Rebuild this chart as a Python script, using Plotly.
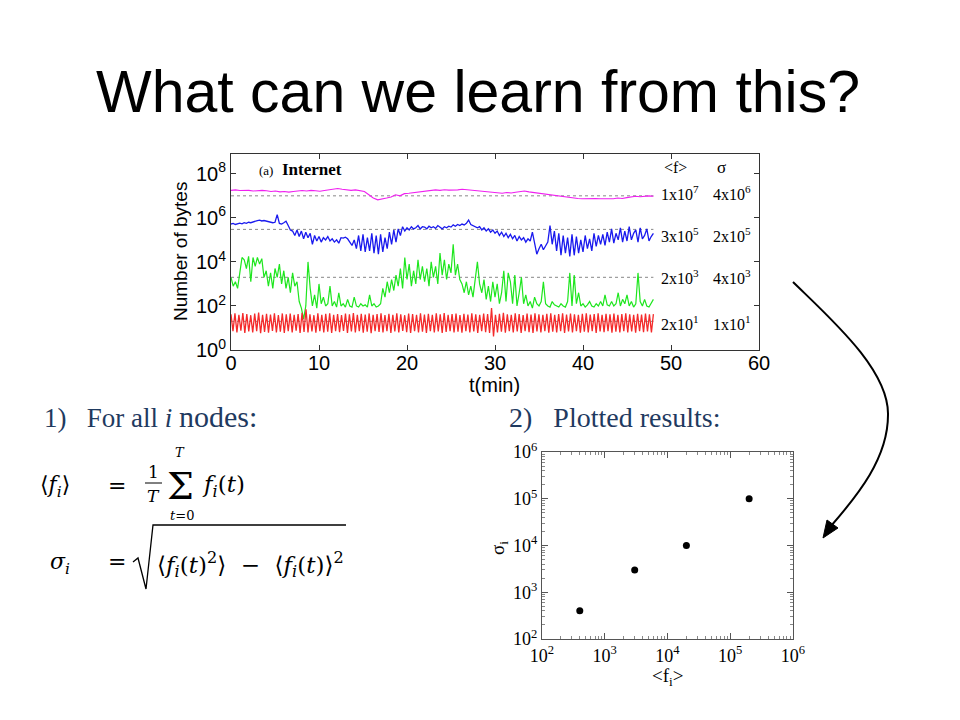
import numpy as np
import plotly.graph_objects as go

W, H = 960, 720
OFF = 8  # page body margin of the browser

# ---------------- data ----------------
# top panel: log10(bytes) read off the picture, sampled uniformly over t = 0..48 min
magenta_log = [7.25, 7.27, 7.24, 7.26, 7.25, 7.22, 7.24, 7.25, 7.23, 7.2, 7.22,
               7.18, 7.2, 7.17, 7.2, 7.22, 7.24, 7.22, 7.25, 7.23, 7.21,
               7.24, 7.26, 7.3, 7.33, 7.3, 7.28, 7.25, 7.27, 7.22, 7.2,
               7.05, 6.9, 6.82, 6.85, 6.9, 6.95, 7.05, 7.0, 7.1, 7.12,
               7.15, 7.18, 7.2, 7.22, 7.25, 7.27, 7.25, 7.28, 7.26, 7.25,
               7.27, 7.3, 7.28, 7.26, 7.22, 7.2, 7.18, 7.17, 7.15, 7.14,
               7.12, 7.15, 7.13, 7.16, 7.2, 7.22, 7.18, 7.15, 7.12, 7.1,
               7.08, 7.05, 7.02, 6.98, 6.95, 6.93, 6.9, 6.88, 6.87, 6.88,
               6.86, 6.88, 6.87, 6.86, 6.88, 6.87, 6.9, 6.88, 6.92, 6.95,
               6.98, 6.96, 6.99, 7.0, 6.98]

blue_log = [5.72, 5.75, 5.7, 5.74, 5.76, 5.73, 5.78, 5.75, 5.8, 5.78, 5.82, 5.85,
            5.88, 5.9, 5.86, 5.88, 5.85, 5.82, 5.8, 5.78, 5.8, 6.15, 5.75, 5.72,
            5.78, 5.85, 5.65, 5.45, 5.4, 5.2, 5.45, 5.15, 5.4, 5.05, 5.35, 5.1,
            5.3, 4.8, 5.2, 4.95, 5.15, 4.9, 5.1, 5.0, 5.15, 4.95, 5.05, 4.9,
            5.0, 4.85, 5.1, 5.08, 5.12, 5.05, 4.9, 4.75, 5.0, 4.6, 5.2, 4.5,
            5.25, 4.45, 5.1, 4.5, 5.3, 4.4, 5.2, 4.35, 5.25, 4.45, 5.1, 4.6,
            5.35, 4.8, 5.45, 4.9, 5.5, 5.2, 5.6, 5.4, 5.55, 5.45, 5.6, 5.5,
            5.55, 5.65, 5.5, 5.6, 5.58, 5.5, 5.62, 5.55, 5.6, 5.52, 5.65, 5.58,
            5.5, 5.6, 5.55, 5.62, 5.58, 5.68, 5.62, 5.7, 5.65, 5.72, 5.68, 5.75,
            5.9, 5.7, 5.65, 5.6, 5.55, 5.6, 5.45, 5.55, 5.4, 5.5, 5.35, 5.45,
            5.3, 5.4, 5.2, 5.35, 5.15, 5.3, 5.1, 5.25, 5.05, 5.2, 4.95, 5.15,
            5.0, 5.1, 4.9, 5.05, 4.95, 5.35, 4.85, 4.35, 4.6, 4.8, 4.55, 4.7,
            4.9, 5.65, 4.8, 5.4, 4.5, 5.3, 4.3, 5.2, 4.4, 5.1, 4.25, 5.25,
            4.3, 5.15, 4.4, 5.0, 4.45, 5.2, 4.6, 5.05, 4.5, 5.3, 4.7, 5.2,
            4.8, 5.25, 4.75, 5.35, 4.9, 5.5, 4.85, 5.3, 5.0, 5.55, 4.9, 5.4,
            4.95, 5.6, 5.0, 5.3, 5.45, 4.9, 5.55, 5.05, 5.2, 5.5, 4.95, 5.15,
            5.3]

green_log = [3.3, 2.9, 3.1, 2.8, 3.5, 4.2, 4.1, 3.7, 4.25, 3.1, 4.2, 3.8,
             4.2, 3.9, 4.15, 3.3, 3.6, 2.9, 3.5, 2.8, 3.7, 3.3, 3.9, 3.0,
             3.6, 2.8, 3.3, 2.6, 3.5, 2.9, 3.1, 2.2, 1.9, 1.4, 2.0, 4.0,
             2.8, 2.0, 2.5, 1.9, 3.0, 2.1, 2.4, 2.0, 2.1, 2.9, 2.0, 2.2,
             1.95, 2.6, 2.0, 2.1, 1.95, 2.3, 2.0, 1.95, 2.4, 2.0, 1.95, 2.1,
             2.0, 2.05, 1.95, 2.5, 2.0, 2.1, 1.95, 2.0, 2.1, 2.8, 2.4, 3.1,
             2.6, 3.2, 2.7, 3.4, 2.9, 3.7, 2.8, 4.2, 3.2, 3.9, 2.9, 3.6,
             3.0, 4.1, 3.2, 3.8, 3.1, 3.7, 2.9, 4.0, 3.3, 3.8, 3.0, 4.4,
             3.4, 4.1, 3.2, 3.9, 3.5, 4.8, 3.4, 3.9, 3.2, 3.0, 2.6, 3.1,
             2.5, 2.9, 2.4, 3.3, 4.0, 3.0, 2.6, 3.2, 2.3, 2.9, 2.2, 3.1,
             2.4, 3.0, 2.1, 2.6, 3.6, 2.2, 3.5, 3.1, 2.1, 3.4, 2.0, 2.6,
             3.3, 2.1, 2.5, 2.0, 2.2, 1.9, 2.4, 2.1, 2.0, 2.2, 3.1, 2.1,
             2.0, 1.95, 2.2, 2.05, 2.0, 1.95, 2.1, 2.0, 1.95, 2.2, 3.5, 2.0,
             3.4, 2.1, 2.6, 2.0, 2.1, 1.95, 2.05, 2.2, 2.0, 1.95, 2.1, 2.0,
             2.2, 2.0, 2.5, 2.05, 2.0, 2.2, 2.0, 2.1, 2.6, 2.0, 2.3, 2.1,
             2.5, 2.0, 2.2, 1.95, 2.1, 3.5, 2.2, 2.0, 2.3, 2.0, 1.95, 2.1,
             2.3]

red_log = [1.62, 0.85, 1.66, 0.8, 1.6, 0.88, 1.68, 0.78, 1.63, 0.84, 1.58, 0.8, 1.65, 0.86, 1.7, 0.76, 1.6, 0.82, 1.64, 0.79,
           1.61, 0.87, 1.67, 0.8, 1.59, 0.83, 1.66, 0.77, 1.62, 0.85, 1.65, 0.8, 1.6, 0.88, 1.63, 0.78, 1.69, 0.82, 1.85, 0.8,
           1.62, 0.84, 1.58, 0.79, 1.66, 0.86, 1.6, 0.8, 1.64, 0.83, 1.67, 0.77, 1.6, 0.85, 1.63, 0.81, 1.59, 0.87, 1.65, 0.78,
           1.62, 0.84, 1.68, 0.8, 1.6, 0.86, 1.64, 0.79, 1.61, 0.83, 1.66, 0.76, 1.6, 0.85, 1.63, 0.82, 1.67, 0.8, 1.59, 0.86,
           1.64, 0.78, 1.6, 0.84, 1.66, 0.8, 1.62, 0.87, 1.58, 0.81, 1.65, 0.77, 1.63, 0.85, 1.6, 0.8, 1.67, 0.83, 1.61, 0.78,
           1.64, 0.86, 1.6, 0.8, 1.66, 0.84, 1.62, 0.77, 1.68, 0.82, 1.6, 0.86, 1.63, 0.8, 1.65, 0.83, 1.59, 0.79, 1.64, 0.85,
           1.61, 0.8, 1.67, 0.84, 1.62, 0.78, 1.6, 0.86, 1.65, 0.81, 1.63, 0.77, 1.9, 0.62, 1.6, 0.8, 1.64, 0.83, 1.69, 0.79,
           1.62, 0.86, 1.6, 0.8, 1.66, 0.84, 1.63, 0.78, 1.59, 0.85, 1.65, 0.81, 1.61, 0.77, 1.67, 0.84, 1.62, 0.8, 1.6, 0.86,
           1.64, 0.79, 1.66, 0.83, 1.6, 0.8, 1.63, 0.86, 1.67, 0.78, 1.61, 0.84, 1.65, 0.8, 1.62, 0.85, 1.6, 0.79, 1.64, 0.83,
           1.66, 0.8, 1.61, 0.86, 1.63, 0.78, 1.67, 0.84, 1.6, 0.81, 1.64, 0.85, 1.62, 0.79, 1.65, 0.83, 1.6, 0.8, 1.63, 0.86,
           1.66, 0.8, 1.62, 0.84, 1.6, 0.79, 1.64, 0.85, 1.61, 0.81, 1.65, 0.84, 1.62, 0.8, 1.63]

series_colors = ["#f020f0", "#1a1aee", "#1ee61e", "#f42a2a"]
series_widths = [1.1, 1.3, 1.2, 1.3]
mean_levels = [1e7, 3e5, 2e3, 2e1]
mean_labels = ["1x10<sup>7</sup>", "3x10<sup>5</sup>", "2x10<sup>3</sup>", "2x10<sup>1</sup>"]
sigma_labels = ["4x10<sup>6</sup>", "2x10<sup>5</sup>", "4x10<sup>3</sup>", "1x10<sup>1</sup>"]
label_rows_log = [7.13, 5.2, 3.31, 1.24]
t_end = 48

x_ticks = [0, 10, 20, 30, 40, 50, 60]
y_ticks = [1, 1e2, 1e4, 1e6, 1e8]
y_ticktext = ["10<sup>0</sup>", "10<sup>2</sup>", "10<sup>4</sup>", "10<sup>6</sup>", "10<sup>8</sup>"]

# bottom-right panel: sigma_i vs <f_i>
f_mean = [400, 3000, 20000, 200000]
sigma = [400, 3000, 10000, 100000]
log_ticks = [1e2, 1e3, 1e4, 1e5, 1e6]
log_ticktext = ["10<sup>2</sup>", "10<sup>3</sup>", "10<sup>4</sup>", "10<sup>5</sup>", "10<sup>6</sup>"]
minor_ticks = [k * 10 ** d for d in range(2, 6) for k in range(2, 10)]


def px(x):
    return (x - OFF) / W


def py(y):
    return 1 - (y - OFF) / H


fig = go.Figure()

series = [magenta_log, blue_log, green_log, red_log]
for vals, col, lw, m in zip(series, series_colors, series_widths, mean_levels):
    t = np.linspace(0, t_end, len(vals))
    fig.add_trace(go.Scatter(x=[0, t_end], y=[m, m], mode="lines",
                             line=dict(color="#888888", width=1, dash="dot"),
                             xaxis="x", yaxis="y", hoverinfo="skip"))
    fig.add_trace(go.Scatter(x=t, y=np.power(10.0, vals), mode="lines",
                             line=dict(color=col, width=lw),
                             xaxis="x", yaxis="y"))

fig.add_trace(go.Scatter(x=f_mean, y=sigma, mode="markers",
                         marker=dict(color="black", size=7),
                         xaxis="x2", yaxis="y2"))

sans = "Liberation Sans, Arial, sans-serif"
serif = "Liberation Serif, Times New Roman, serif"
navy = "#1f3a60"

fig.update_layout(
    template="none",
    width=W, height=H,
    margin=dict(l=0, r=0, t=0, b=0),
    paper_bgcolor="white", plot_bgcolor="white",
    showlegend=False,
    xaxis=dict(domain=[px(231), px(759)], range=[0, 60], tickvals=x_ticks,
               ticks="inside", ticklen=5, tickcolor="#333", showline=True, linecolor="#333",
               linewidth=1, mirror="ticks", showgrid=False, zeroline=False,
               ticklabelstandoff=-5,
               tickfont=dict(family=sans, size=20, color="black"), anchor="y"),
    yaxis=dict(domain=[py(350), py(154)], type="log", range=[0, 8.9], tickvals=y_ticks,
               ticktext=y_ticktext, ticks="inside", ticklen=5, tickcolor="#333", showline=True,
               linecolor="#333", linewidth=1, mirror="ticks", showgrid=False, zeroline=False,
               tickfont=dict(family=sans, size=20, color="black"), anchor="x"),
    xaxis2=dict(domain=[px(542), px(793)], type="log", range=[2, 6], tickvals=log_ticks,
                ticktext=log_ticktext, ticks="inside", ticklen=6, tickcolor="#555",
                showline=True, linecolor="#555", linewidth=1, mirror="allticks",
                showgrid=False, zeroline=False,
                minor=dict(tickvals=minor_ticks, ticks="inside", ticklen=3,
                           tickcolor="#888", showgrid=False),
                tickfont=dict(family=serif, size=18, color="black"), anchor="y2"),
    yaxis2=dict(domain=[py(639), py(452)], type="log", range=[2, 6], tickvals=log_ticks,
                ticktext=log_ticktext, ticks="inside", ticklen=6, tickcolor="#555",
                showline=True, linecolor="#555", linewidth=1, mirror="allticks",
                showgrid=False, zeroline=False,
                minor=dict(tickvals=minor_ticks, ticks="inside", ticklen=3,
                           tickcolor="#888", showgrid=False),
                tickfont=dict(family=serif, size=18, color="black"), anchor="x2"),
)

ann = []


def A(text, x, y, size, family=serif, color="black", xanchor="center", yanchor="middle",
      angle=0, xref="paper", yref="paper"):
    if xref == "paper":
        x = px(x)
    if yref == "paper":
        y = py(y)
    ann.append(dict(text=text, x=x, y=y, xref=xref, yref=yref, showarrow=False,
                    xanchor=xanchor, yanchor=yanchor, textangle=angle,
                    font=dict(family=family, size=size, color=color)))


# title
A("What can we learn from this?", 478, 92, 59, family=sans)

# top panel labels
A("Number of bytes", 180, 252, 19, family=sans, angle=-90)
A("t(min)", 494, 385, 20, family=sans)
A("<span style='font-size:13px'>(a)</span>  <b>Internet</b>", 3.0, 8.18, 17,
  xanchor="left", xref="x", yref="y")
A("&lt;f&gt;", 49.0, 8.28, 16, xanchor="left", xref="x", yref="y")
A("σ", 55.0, 8.28, 17, xanchor="left", xref="x", yref="y")
for lab_m, lab_s, row in zip(mean_labels, sigma_labels, label_rows_log):
    A(lab_m, 48.6, row, 16, xanchor="left", xref="x", yref="y")
    A(lab_s, 54.6, row, 16, xanchor="left", xref="x", yref="y")

# section headings
A("1)&nbsp;&nbsp;&nbsp;For all <i>i</i> <span style='font-size:30px'>nodes:</span>", 42, 416, 27,
  color=navy, xanchor="left")
A("2)&nbsp;&nbsp;&nbsp;Plotted results:", 507, 417, 28, color=navy, xanchor="left")

# formulas
fml = "DejaVu Serif"
A("⟨<i>f<sub>i</sub></i>⟩", 55, 486, 22, family=fml)
A("=", 117, 485, 22, family=fml)
A("1", 153, 472, 17, family=fml)
A("<i>T</i>", 153, 496, 17, family=fml)
A("Σ", 180, 486, 38, family=fml)
A("<i>T</i>", 180, 452, 13, family=fml)
A("<i>t</i>=0", 182, 515, 13, family=fml)
A("<i>f<sub>i</sub></i>(<i>t</i>)", 200, 486, 23, family=fml, xanchor="left")
A("<i>σ<sub>i</sub></i>", 60, 563, 22, family=fml)
A("=", 117, 561, 22, family=fml)
A("⟨<i>f<sub>i</sub></i>(<i>t</i>)<sup>2</sup>⟩ &nbsp;−&nbsp; ⟨<i>f<sub>i</sub></i>(<i>t</i>)⟩<sup>2</sup>",
  155, 564, 23, family=fml, xanchor="left")

# scatter axis titles
A("σ<sub>i</sub>", 499, 548, 19, angle=-90)
A("&lt;f<sub>i</sub>&gt;", 667, 677, 19)

fig.update_layout(annotations=ann)


def P(x, y):
    return f"{px(x):.5f},{py(y):.5f}"


def path(points, close=False):
    s = "M " + " L ".join(P(x, y) for x, y in points)
    return s + (" Z" if close else "")


shapes = []
# fraction bar
shapes.append(dict(type="line", xref="paper", yref="paper", x0=px(145), x1=px(162),
                   y0=py(483), y1=py(483), line=dict(color="black", width=1)))
# radical sign
shapes.append(dict(type="path", xref="paper", yref="paper",
                   path=path([(133, 562), (138, 558), (146, 589), (153, 525), (346, 525)]),
                   line=dict(color="black", width=1.3)))
# curved arrow
curve = ("M " + P(793, 282) + " C " + P(832, 320) + " " + P(889, 370) + " " + P(888, 415)
         + " C " + P(888, 458) + " " + P(858, 495) + " " + P(831, 526))
shapes.append(dict(type="path", xref="paper", yref="paper", path=curve,
                   line=dict(color="black", width=2)))
shapes.append(dict(type="path", xref="paper", yref="paper",
                   path=path([(823, 538), (838, 528), (827, 520)], close=True),
                   fillcolor="black", line=dict(color="black", width=1)))
fig.update_layout(shapes=shapes)

fig.write_html("out.html")
